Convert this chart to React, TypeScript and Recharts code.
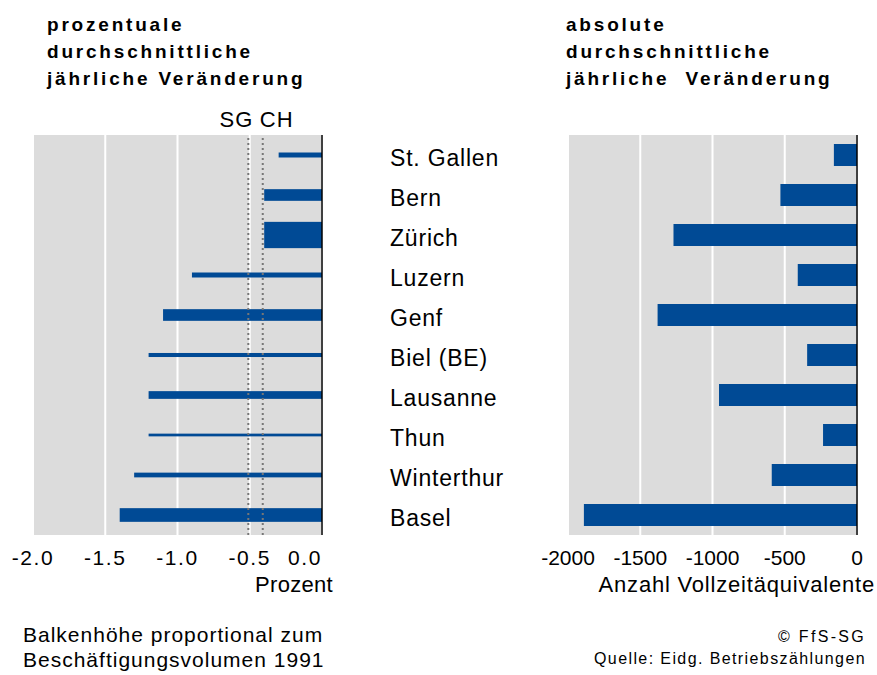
import React from 'react';
import { BarChart, Bar, XAxis, YAxis, CartesianGrid, ReferenceLine } from 'recharts';

// ---- data ----
const cities = ['St. Gallen', 'Bern', 'Zürich', 'Luzern', 'Genf', 'Biel (BE)', 'Lausanne', 'Thun', 'Winterthur', 'Basel'];
// average annual change in percent
const pctChange = [-0.3, -0.4, -0.4, -0.9, -1.1, -1.2, -1.2, -1.2, -1.3, -1.4];
// average annual absolute change (full-time equivalents)
const absChange = [-160, -530, -1270, -410, -1380, -345, -955, -235, -590, -1890];
// employment volume 1991 (thousand FTE)
const volume1991 = [57, 133, 300, 57, 133, 46, 88, 31, 54, 156];
const pctTicks = [-2.0, -1.5, -1.0, -0.5, 0.0];
const absTicks = [-2000, -1500, -1000, -500, 0];
const sgAverage = -0.51;
const chAverage = -0.41;

const data = cities.map((city, i) => ({
  city,
  pct: pctChange[i],
  abs: absChange[i],
  volume: volume1991[i],
}));

// ---- styles ----
const FONT = '"Liberation Sans", Arial, Helvetica, sans-serif';
const BLUE = '#004a95';
const GRAY = '#dcdcdc';
const DOT = '#777777';
const MAX_THICK = 26.3;
const maxVolume = Math.max(...volume1991);

const VolumeBar = (props: any) => {
  const { x, y, width, height, payload } = props;
  const cy = y + height / 2;
  const h = (payload.volume / maxVolume) * MAX_THICK;
  const left = Math.min(x, x + width);
  return <rect x={left} y={cy - h / 2} width={Math.abs(width)} height={h} fill={BLUE} />;
};

const PctTick = (props: any) => {
  const { x, y, payload } = props;
  const isZero = payload.value === 0;
  return (
    <text x={x} y={y} dy="0.71em" textAnchor={isZero ? 'end' : 'middle'} fontFamily={FONT} fontSize={21} letterSpacing={1.6} fill="#000">
      {Number(payload.value).toFixed(1)}
    </text>
  );
};

const AbsTick = (props: any) => {
  const { x, y, payload } = props;
  return (
    <text x={x} y={y} dy="0.71em" textAnchor="middle" fontFamily={FONT} fontSize={21} fill="#000">
      {payload.value}
    </text>
  );
};

const LABEL_X = 390;
const CityTick = (props: any) => {
  const { y, payload } = props;
  return (
    <text x={LABEL_X} y={y} dy={10.5} textAnchor="start" fontFamily={FONT} fontSize={23} letterSpacing={0.8} fill="#000">
      {payload.value}
    </text>
  );
};

const makeRefLabel = (text: string, anchor: 'start' | 'end', dx: number) => (p: any) => {
  const vb = p.viewBox || {};
  return (
    <text x={vb.x + dx} y={vb.y - 8} textAnchor={anchor} fontFamily={FONT} fontSize={22} letterSpacing={1} fill="#000">
      {text}
    </text>
  );
};

const LeftChart = () => (
  <BarChart layout="vertical" width={877} height={675} data={data} margin={{ top: 135, right: 555, bottom: 100, left: 33 }}>
    <CartesianGrid horizontal={false} fill={GRAY} stroke="#ffffff" strokeWidth={2} />
    <XAxis type="number" dataKey="pct" domain={[-2, 0]} ticks={pctTicks} axisLine={false} tickLine={false} tickSize={6} tickMargin={9} height={40} tick={<PctTick />} interval={0} allowDataOverflow />
    <YAxis type="category" dataKey="city" hide />
    <Bar dataKey="pct" barSize={30} shape={VolumeBar} isAnimationActive={false} />
    <ReferenceLine x={0} stroke="#000" strokeWidth={1.5} />
    <ReferenceLine x={sgAverage} stroke={DOT} strokeWidth={2} strokeDasharray="2 3" label={makeRefLabel('SG', 'end', 5)} />
    <ReferenceLine x={chAverage} stroke={DOT} strokeWidth={2} strokeDasharray="2 3" label={makeRefLabel('CH', 'start', -3)} />
  </BarChart>
);

const RightChart = () => (
  <BarChart layout="vertical" width={877} height={675} data={data} margin={{ top: 135, right: 20, bottom: 100, left: 390 }}>
    <CartesianGrid horizontal={false} fill={GRAY} stroke="#ffffff" strokeWidth={2} />
    <XAxis type="number" dataKey="abs" domain={[-2000, 0]} ticks={absTicks} axisLine={false} tickLine={false} tickSize={6} tickMargin={9} height={40} tick={<AbsTick />} interval={0} allowDataOverflow />
    <YAxis type="category" dataKey="city" width={178} axisLine={false} tickLine={false} tick={<CityTick />} interval={0} />
    <Bar dataKey="abs" barSize={22} fill={BLUE} isAnimationActive={false} />
    <ReferenceLine x={0} stroke="#000" strokeWidth={1.5} />
  </BarChart>
);

const Overlay = () => (
  <svg width={877} height={675} style={{ position: 'absolute', left: 0, top: 0, pointerEvents: 'none' }}>
    <g fontFamily={FONT} fontWeight="bold" fontSize={19} letterSpacing={2.8} fill="#000">
      <text x={47} y={31}>prozentuale</text>
      <text x={47} y={58}>durchschnittliche</text>
      <text x={47} y={85}>jährliche Veränderung</text>
      <text x={566} y={31}>absolute</text>
      <text x={566} y={58}>durchschnittliche</text>
      <text x={566} y={85} xmlSpace="preserve">jährliche  Veränderung</text>
    </g>
    <g fontFamily={FONT} fontSize={22} fill="#000">
      <text x={333} y={592} textAnchor="end" letterSpacing={0.3}>Prozent</text>
      <text x={875} y={592} textAnchor="end" letterSpacing={0.8}>Anzahl Vollzeitäquivalente</text>
    </g>
    <g fontFamily={FONT} fontSize={21} letterSpacing={1} fill="#000">
      <text x={23} y={642}>Balkenhöhe proportional zum</text>
      <text x={23} y={667}>Beschäftigungsvolumen 1991</text>
    </g>
    <g fontFamily={FONT} fontSize={16} fill="#000" textAnchor="end">
      <text x={866} y={642} letterSpacing={2.3}>© FfS-SG</text>
      <text x={866} y={664} letterSpacing={1.4}>Quelle: Eidg. Betriebszählungen</text>
    </g>
  </svg>
);

export default function App() {
  return (
    <div style={{ position: 'absolute', left: 0, top: 0, width: 877, height: 675, background: '#fff', overflow: 'hidden' }}>
      <div style={{ position: 'absolute', left: 0, top: 0 }}>
        <LeftChart />
      </div>
      <div style={{ position: 'absolute', left: 0, top: 0 }}>
        <RightChart />
      </div>
      <Overlay />
    </div>
  );
}
